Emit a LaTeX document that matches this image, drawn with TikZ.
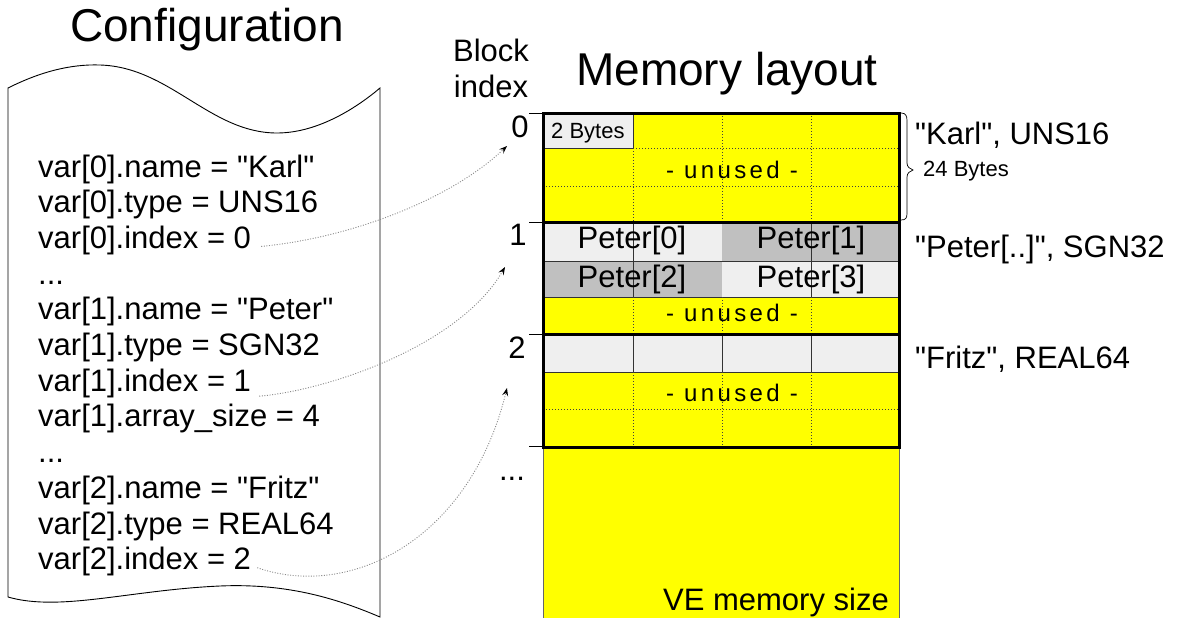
\documentclass[tikz,border=0pt]{standalone}
\usepackage{fontspec}
\setmainfont{Liberation Sans}[Ligatures=TeXOff]
\usetikzlibrary{arrows.meta}
\definecolor{memyellow}{HTML}{FFFF00}
\definecolor{cellLight}{HTML}{EFEFEF}
\definecolor{cellDark}{HTML}{C0C0C0}
\definecolor{dotline}{HTML}{8A8A8A}
\begin{document}
\begin{tikzpicture}[x=1pt,y=-1pt,
  txt/.style={inner sep=0pt, anchor=base west, font=\fontsize{31}{36}\selectfont},
  ctxt/.style={inner sep=0pt, anchor=base, font=\fontsize{31}{36}\selectfont},
  title/.style={inner sep=0pt, anchor=base, font=\fontsize{46}{50}\selectfont},
  small/.style={inner sep=0pt, anchor=base west, font=\fontsize{22}{24}\selectfont},
  unusedtxt/.style={inner sep=0pt, anchor=base, font=\fontsize{24}{26}\selectfont\addfontfeature{LetterSpace=14}},
  griddot/.style={black!75, line width=0.8pt, dash pattern=on 1pt off 2pt},
  gridline/.style={black!80, line width=0.8pt},
  blockframe/.style={line width=3pt},
  tick/.style={line width=0.8pt},
  link/.style={dotline, line width=0.9pt, dash pattern=on 1pt off 1.6pt,
    -{Stealth[black,length=8pt,width=6pt,inset=3pt]}}
]
\useasboundingbox (0,0) rectangle (1184,618);

% ---------- Configuration (scroll) ----------
\node[title] (conftitle) at (207,42) {Configuration};
\draw[line width=0.9pt]
  (8,88) .. controls (40,72) and (70,64) .. (100,65)
  .. controls (170,67) and (210,133) .. (277,133)
  .. controls (320,133) and (360,105) .. (380,88)
  -- (380,617)
  .. controls (340,600) and (290,583) .. (220,586)
  .. controls (130,590) and (60,612) .. (8,597) -- cycle;

\node[txt] (c1)  at (38,177.0) {var[0].name = "Karl"};
\node[txt] (c2)  at (38,212.7) {var[0].type = UNS16};
\node[txt] (c3)  at (38,248.4) {var[0].index = 0};
\node[txt] (c4)  at (38,284.1) {...};
\node[txt] (c5)  at (38,319.8) {var[1].name = "Peter"};
\node[txt] (c6)  at (38,355.5) {var[1].type = SGN32};
\node[txt] (c7)  at (38,391.2) {var[1].index = 1};
\node[txt] (c8)  at (38,426.9) {var[1].array\_size = 4};
\node[txt] (c9)  at (38,462.6) {...};
\node[txt] (c10) at (38,498.3) {var[2].name = "Fritz"};
\node[txt] (c11) at (38,534.0) {var[2].type = REAL64};
\node[txt] (c12) at (38,569.7) {var[2].index = 2};

% ---------- Memory layout ----------
\node[title] (memtitle) at (727,85) {Memory layout};
\node[ctxt] (bl1) at (491,62) {Block};
\node[ctxt] (bl2) at (491,98) {index};

\fill[memyellow] (543,113) rectangle (899,618);

% block 0
\fill[cellLight] (543,113) rectangle (633,148);
\draw[gridline] (633,113) -- (633,148) -- (543,148);
\draw[griddot] (633,148) -- (633,222);
\draw[griddot] (722,113) -- (722,222);
\draw[griddot] (811,113) -- (811,222);
\draw[griddot] (633,148) -- (899,148);
\draw[griddot] (543,186) -- (899,186);

% block 1
\fill[cellLight] (543,222) rectangle (722,261);
\fill[cellDark]  (722,222) rectangle (899,261);
\fill[cellDark]  (543,261) rectangle (722,297);
\fill[cellLight] (722,261) rectangle (899,297);
\draw[gridline] (543,261) -- (899,261);
\draw[gridline] (543,297) -- (899,297);
\draw[gridline] (633,222) -- (633,297);
\draw[gridline] (811,222) -- (811,297);
\draw[griddot] (633,297) -- (633,334);
\draw[griddot] (722,297) -- (722,334);
\draw[griddot] (811,297) -- (811,334);

% block 2
\fill[cellLight] (543,334) rectangle (899,372);
\draw[gridline] (543,372) -- (899,372);
\draw[gridline] (633,334) -- (633,372);
\draw[gridline] (722,334) -- (722,372);
\draw[gridline] (811,334) -- (811,372);
\draw[griddot] (633,372) -- (633,447);
\draw[griddot] (722,372) -- (722,447);
\draw[griddot] (811,372) -- (811,447);
\draw[griddot] (543,409) -- (899,409);

% remaining memory
\draw[black!60, line width=0.8pt] (543,447) -- (543,618);
\draw[black!60, line width=0.8pt] (899,447) -- (899,618);

% block frames
\draw[blockframe] (543,113) rectangle (899,222);
\draw[blockframe] (543,222) rectangle (899,334);
\draw[blockframe] (543,334) rectangle (899,447);

% ticks
\draw[tick] (529,113) -- (543,113);
\draw[tick] (529,222) -- (543,222);
\draw[tick] (529,334) -- (543,334);
\draw[tick] (529,446) -- (543,446);

% block indices
\node[ctxt] (b0) at (520,137) {0};
\node[ctxt] (b1) at (518,245) {1};
\node[ctxt] (b2) at (517,358) {2};
\node[ctxt] (bd) at (512,480) {...};

% cell texts
\node[small] (twobytes) at (551,138) {2 Bytes};
\node[unusedtxt] (u0) at (732,178) {- unused -};
\node[ctxt] (p0) at (632,248) {Peter[0]};
\node[ctxt] (p1) at (811,248) {Peter[1]};
\node[ctxt] (p2) at (632,287) {Peter[2]};
\node[ctxt] (p3) at (811,287) {Peter[3]};
\node[unusedtxt] (u1) at (732,321) {- unused -};
\node[unusedtxt] (u2) at (732,401) {- unused -};
\node[inner sep=0pt, anchor=base east, font=\fontsize{31}{36}\selectfont] (ve) at (889,610) {VE memory size};

% brace and right labels
\draw[line width=0.7pt] (901,113) .. controls (906,113) and (907,116) .. (907,121) -- (907,163)
  .. controls (907,167) and (910,169) .. (913,170)
  .. controls (910,171) and (907,173) .. (907,177) -- (907,213)
  .. controls (907,218) and (906,220) .. (901,220);
\node[txt] (lk) at (915,144) {"Karl", UNS16};
\node[small] (lb) at (923,176) {24 Bytes};
\node[txt] (lp) at (915,257) {"Peter[..]", SGN32};
\node[txt] (lf) at (915,368) {"Fritz", REAL64};

% links
\coordinate (t0) at (507,146);
\coordinate (t1) at (505,267);
\coordinate (t2) at (507,388);
\draw[link] ([shift={(10pt,2pt)}]c3.base east) .. controls (350,238) and (450,200) .. (t0);
\draw[link] ([shift={(8pt,-5pt)}]c7.base east) .. controls (330,390) and (460,345) .. (t1);
\draw[link] ([shift={(6pt,2pt)}]c12.base east) .. controls (350,600) and (470,540) .. (t2);
\end{tikzpicture}
\end{document}
